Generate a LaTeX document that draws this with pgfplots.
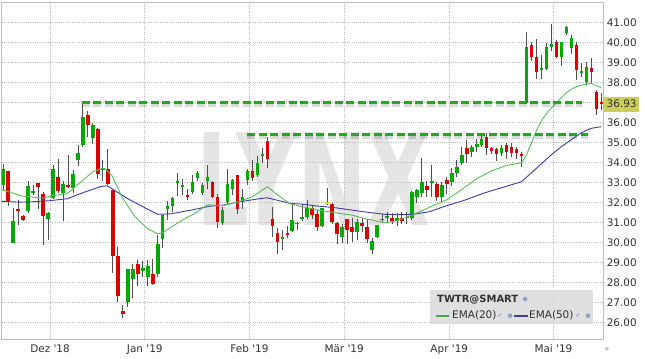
\documentclass[border=0pt]{standalone}
\usepackage{fontspec}
\setmainfont{DejaVu Sans}
\usepackage{pgfplots}
\pgfplotsset{compat=1.18}
\usepackage{pgfplotstable}
\usepackage{graphicx}
\definecolor{cgreen}{RGB}{0,170,0}
\definecolor{cred}{RGB}{220,0,0}
\definecolor{cyel}{RGB}{230,220,0}
\definecolor{wick}{RGB}{80,80,80}
\definecolor{ema20}{RGB}{90,190,90}
\definecolor{ema50}{RGB}{60,60,175}
\definecolor{dashg}{RGB}{30,170,30}
\definecolor{gridc}{RGB}{190,190,190}
\definecolor{lblbox}{RGB}{205,205,90}
\definecolor{legbg}{RGB}{218,218,218}
\definecolor{txt}{RGB}{50,50,50}
\definecolor{iconc}{RGB}{140,160,200}
\definecolor{checkc}{RGB}{90,110,190}

\pgfplotstableread{
j o h l c
0 32.87 33.92 32.6 33.67
2 30.0 31.73 29.97 31.07
5 31.58 33.07 31.5 32.82
6 32.48 32.87 32.37 32.6
9 31.17 31.55 30.12 31.47
10 32.23 33.87 32.2 33.67
12 32.5 33.1 31.08 32.95
14 32.75 33.62 32.5 33.42
15 34.15 34.9 33.83 34.48
16 34.9 37.1 34.78 36.27
18 35.23 36.0 34.95 35.87
20 33.62 34.12 33.07 33.73
25 27.03 28.67 26.78 28.67
26 28.17 28.92 27.23 28.7
28 28.58 29.08 28.28 28.73
29 28.28 29.12 27.83 28.82
31 28.42 30.4 28.3 29.95
32 30.2 31.37 29.75 31.37
33 31.7 32.07 31.12 31.82
34 31.82 32.3 31.53 32.23
35 33.0 33.5 32.32 33.08
36 32.82 33.2 32.37 32.87
38 32.53 33.37 32.45 33.03
39 33.22 33.6 33.1 33.47
40 32.47 33.0 32.4 32.88
41 33.1 33.9 32.7 33.3
44 30.97 31.8 30.9 31.65
45 32.05 33.67 31.95 32.95
46 32.67 33.2 32.4 33.15
48 32.05 32.7 31.7 32.3
49 33.13 33.7 32.9 33.58
51 33.38 34.35 33.3 34.0
52 34.33 34.72 33.97 34.42
56 30.2 30.63 29.63 30.27
58 30.58 31.92 30.55 31.13
59 30.93 31.05 30.63 31.0
60 31.2 31.93 31.1 31.25
61 31.3 32.13 31.2 31.72
64 30.83 31.75 30.8 31.72
68 30.3 30.95 30.0 30.77
71 30.55 31.2 30.13 31.02
74 29.63 30.22 29.42 30.1
75 30.3 30.9 30.25 30.88
76 31.13 31.45 30.97 31.2
77 31.27 31.55 30.97 31.33
79 31.1 31.5 30.85 31.25
81 31.23 31.55 30.92 31.3
82 31.22 32.6 31.15 32.55
83 32.3 32.7 32.0 32.63
84 32.5 34.22 32.3 33.05
86 33.0 33.88 32.3 33.1
88 32.3 33.05 32.05 32.88
90 33.05 33.72 32.83 33.5
91 33.5 34.13 33.3 33.8
92 34.0 34.8 33.88 34.38
94 34.55 34.9 34.3 34.8
95 34.8 35.2 34.55 34.93
96 34.88 35.47 34.8 35.17
100 34.47 34.88 34.35 34.72
105 37.0 40.55 36.95 39.8
108 38.67 39.38 38.17 38.72
109 38.68 39.97 38.65 39.8
110 39.8 40.92 39.6 39.93
112 39.3 40.05 38.85 40.02
113 40.47 40.85 40.4 40.8
114 39.72 40.38 39.45 40.22
116 38.52 38.97 38.3 38.58
117 38.05 39.05 37.88 38.8
}\greentab

\pgfplotstableread{
j o h l c
1 33.57 33.6 31.82 32.07
3 31.68 32.12 30.87 31.62
4 31.32 31.38 31.1 31.15
7 32.98 33.0 31.7 32.77
8 32.45 32.53 29.87 31.33
11 33.28 34.17 32.5 32.58
13 32.87 34.4 32.75 32.78
17 36.37 36.57 35.28 35.9
19 35.7 35.75 33.17 33.45
21 33.7 34.7 32.9 32.95
22 32.62 32.65 28.5 29.33
23 29.32 29.78 27.03 27.33
24 26.57 26.87 26.23 26.45
27 28.92 29.12 27.83 28.45
30 28.42 29.2 27.9 27.95
37 32.4 32.7 32.12 32.32
42 33.05 33.1 32.25 32.3
43 32.3 32.45 30.73 31.05
47 33.38 33.4 31.43 31.7
50 33.58 34.13 33.1 33.25
53 35.08 35.3 33.72 34.18
54 31.17 31.77 30.3 30.83
55 30.5 30.72 29.43 30.05
57 30.5 30.83 30.22 30.42
62 31.72 31.85 31.2 31.38
63 31.42 31.63 30.58 30.77
66 31.92 32.0 30.95 31.05
67 31.0 31.05 29.93 30.43
69 31.17 31.2 29.93 30.63
70 30.77 31.25 30.05 30.55
72 30.97 31.25 30.55 30.85
73 30.77 31.2 30.0 30.17
78 31.25 31.5 30.92 31.1
80 31.22 31.55 30.92 31.1
85 32.85 33.1 32.3 32.63
87 32.93 33.05 32.1 32.3
89 33.13 33.3 32.43 32.93
93 34.72 35.13 33.97 34.43
97 35.3 35.47 34.38 34.75
98 34.75 34.8 34.45 34.58
99 34.68 34.75 34.08 34.42
101 34.88 35.0 34.18 34.52
102 34.77 34.97 34.3 34.5
103 34.67 34.8 34.2 34.47
104 34.42 34.55 33.8 34.37
106 39.88 40.05 39.1 39.3
107 39.27 40.17 38.18 38.55
111 40.02 40.13 39.25 39.3
115 39.88 40.05 38.13 38.63
118 38.72 39.22 37.97 38.52
119 37.52 37.63 36.38 36.68
120 37.0 37.47 36.63 36.93
}\redtab

\pgfplotstableread{
j o h l c
65 32.0 32.72 31.88 32.0
}\yeltab

\pgfplotsset{
  wickstyle/.style={draw=none, mark=none, forget plot,
    error bars/.cd, y dir=both, y explicit, error mark=none,
    error bar style={draw=wick, line width=0.9bp}},
  bodystyle/.style={draw=none, mark=none, forget plot,
    error bars/.cd, y dir=both, y explicit, error mark=none,
    error bar style={draw=#1, line width=3.6bp}},
}

\begin{document}
\begin{tikzpicture}[x=1bp,y=1bp]
\useasboundingbox (-1.7,-19) rectangle (643.3,339);
\node[text=black!10, inner sep=0pt] at (312,160) {\resizebox{234bp}{93bp}{\bfseries LYNX}};
\begin{axis}[
  at={(0,0)}, anchor=south west, scale only axis,
  width=601.6bp, height=337bp,
  xmin=-0.3, xmax=120.4, ymin=25.19, ymax=42.03,
  axis line style={draw=gridc, line width=0.8bp},
  xtick={9.4,28.4,49.4,68.4,89.5,110.4},
  xticklabels={Dez \textquotesingle18,Jan \textquotesingle19,Feb \textquotesingle19,Mär \textquotesingle19,Apr \textquotesingle19,Mai \textquotesingle19},
  ytick={26,...,41},
  yticklabel pos=right,
  grid=major,
  major grid style={draw=gridc, line width=0.6bp, dash pattern=on 1bp off 1.2bp},
  major tick length=0pt,
  tick label style={font=\fontsize{10.5}{12}\selectfont, text=txt},
  yticklabel style={anchor=west, xshift=0bp, /pgf/number format/.cd, fixed, fixed zerofill, precision=2},
  xticklabel style={yshift=-2bp},
  /pgf/number format/assume math mode=true,
]
% wicks
\addplot[wickstyle] table[x=j, y expr={(\thisrow{h}+\thisrow{l})/2}, y error expr={(\thisrow{h}-\thisrow{l})/2}] {\greentab};
\addplot[wickstyle] table[x=j, y expr={(\thisrow{h}+\thisrow{l})/2}, y error expr={(\thisrow{h}-\thisrow{l})/2}] {\redtab};
\addplot[wickstyle] table[x=j, y expr={(\thisrow{h}+\thisrow{l})/2}, y error expr={(\thisrow{h}-\thisrow{l})/2}] {\yeltab};
% bodies
\addplot[bodystyle=cgreen] table[x=j, y expr={(\thisrow{o}+\thisrow{c})/2}, y error expr={max(abs(\thisrow{c}-\thisrow{o})/2,0.045)}] {\greentab};
\addplot[bodystyle=cred] table[x=j, y expr={(\thisrow{o}+\thisrow{c})/2}, y error expr={max(abs(\thisrow{c}-\thisrow{o})/2,0.045)}] {\redtab};
\addplot[bodystyle=cyel] table[x=j, y expr={(\thisrow{o}+\thisrow{c})/2}, y error expr={max(abs(\thisrow{c}-\thisrow{o})/2,0.045)}] {\yeltab};
% EMA 50
\addplot[ema50, line width=0.9bp, forget plot] coordinates {(-0.3,32.07) (3.3,32.03) (5.9,32.05) (9.3,32.1) (12.8,32.2) (16,32.5) (19.4,32.8) (20.8,32.85) (21.8,32.7) (25,32.2) (28.4,31.75) (31,31.42) (33.8,31.45) (38.5,31.67) (41.5,31.83) (44.1,31.88) (47.5,32.05) (50.9,32.18) (52.9,32.25) (54.9,32.13) (57.5,31.97) (59.9,31.93) (63.2,31.83) (66.6,31.75) (70,31.63) (73.2,31.52) (76.6,31.42) (79,31.4) (82.2,31.42) (85.6,31.55) (88.3,31.8) (92.3,32.1) (96.3,32.47) (100,32.75) (104,33.05) (106,33.5) (108,33.95) (110,34.4) (112,34.8) (114,35.15) (116,35.5) (118,35.72) (120,35.8)};
% EMA 20
\addplot[ema20, line width=0.9bp, forget plot] coordinates {(-0.3,32.65) (1.3,32.53) (3.9,32.33) (7.9,32.23) (9.9,32.35) (12.8,32.45) (15.4,33.0) (18,33.55) (19.8,33.7) (20.5,33.68) (21.8,33.37) (23.8,32.3) (26.4,31.3) (29,30.7) (30.8,30.47) (31.8,30.47) (33.8,30.8) (36.4,31.2) (38.5,31.47) (41,31.9) (44,31.85) (47,32.03) (50,32.3) (53,32.8) (55,32.4) (57.5,31.95) (60,31.8) (63.2,31.63) (66.6,31.5) (70,31.38) (73.2,31.17) (76.6,31.0) (79,31.1) (82.2,31.4) (85.6,31.78) (89,32.15) (92,32.66) (95,33.2) (98,33.6) (101,33.86) (104,34.0) (105,34.4) (106,35.0) (107,35.6) (108,36.1) (109,36.45) (110,36.75) (111,37.0) (112,37.25) (113,37.5) (114,37.68) (115,37.8) (116,37.87) (117,37.93) (118,37.97) (119,37.85) (120,37.75)};
% support / resistance lines with shadow
\addplot[black, opacity=0.15, line width=4.5bp, dash pattern=on 8bp off 3.5bp, forget plot] coordinates {(15.76,36.92) (116.2,36.92)};
\addplot[dashg, line width=3bp, dash pattern=on 8bp off 3.5bp, forget plot] coordinates {(15.76,37.0) (116.2,37.0)};
\addplot[black, opacity=0.15, line width=4.5bp, dash pattern=on 8bp off 3.5bp, forget plot] coordinates {(49.0,35.31) (117.4,35.31)};
\addplot[dashg, line width=3bp, dash pattern=on 8bp off 3.5bp, forget plot] coordinates {(49.0,35.39) (117.4,35.39)};
\end{axis}
% price label
\node[fill=lblbox, text=txt, font=\fontsize{10.5}{12}\selectfont, inner xsep=2.5bp, inner ysep=0pt, minimum height=15bp, anchor=west] at (602.3,234.9) {36.93};
% legend
\fill[legbg, opacity=0.85] (428.3,15) rectangle (591.3,49);
\node[anchor=west, inner sep=0pt, text=txt, font=\fontsize{10}{12}\selectfont\bfseries] at (435.3,39.7) {TWTR@SMART};
\fill[iconc] (523.3,40) circle (2.3);
\draw[ema20!85!black, line width=1.8bp] (434.3,23.3) -- (447.3,23.3);
\node[anchor=west, inner sep=0pt, text=txt, font=\fontsize{10.5}{12}\selectfont] at (450.3,23.3) {EMA(20)};
\node[inner sep=0pt, text=checkc, font=\fontsize{6}{7}\selectfont] at (498.3,23.3) {✓};
\fill[iconc] (508.3,23.3) circle (2.3);
\draw[ema50, line width=1.8bp] (512.3,23.3) -- (526.3,23.3);
\node[anchor=west, inner sep=0pt, text=txt, font=\fontsize{10.5}{12}\selectfont] at (527.3,23.3) {EMA(50)};
\node[inner sep=0pt, text=checkc, font=\fontsize{6}{7}\selectfont] at (576.3,23.3) {✓};
\fill[iconc] (586.3,23.3) circle (2.3);
\node[inner sep=0pt, text=gray, font=\fontsize{7}{8}\selectfont] at (605.3,-10) {+};
\end{tikzpicture}
\end{document}
